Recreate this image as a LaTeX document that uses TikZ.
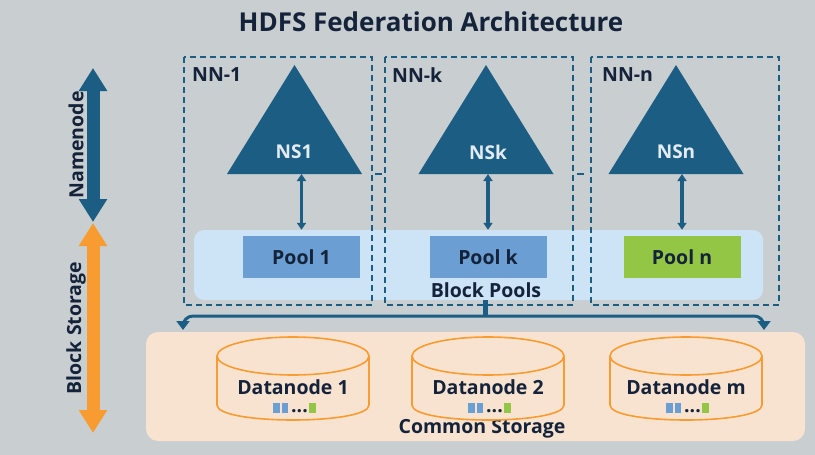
\documentclass[tikz,border=0pt]{standalone}
\usepackage{fontspec}
\setmainfont{Open Sans}
\usetikzlibrary{arrows.meta}
\definecolor{bg}{HTML}{C9CED1}
\definecolor{dblue}{HTML}{1C5D84}
\definecolor{navy}{HTML}{14233A}
\definecolor{bppanel}{HTML}{CDE3F6}
\definecolor{poolblue}{HTML}{6B9ED3}
\definecolor{poolgreen}{HTML}{94C646}
\definecolor{peach}{HTML}{F8E3D0}
\definecolor{orng}{HTML}{F89C31}
\definecolor{nstext}{HTML}{E4ECF3}
\tikzset{
  lbl/.style={font=\bfseries\fontsize{19.5}{22}\selectfont, text=navy, inner sep=0pt},
  nnbox/.style={draw=dblue, line width=1.6pt, dash pattern=on 6pt off 4pt},
  poolbox/.style={minimum width=117pt, minimum height=42pt, inner sep=0pt, font=\bfseries\fontsize{19.5}{22}\selectfont, text=navy},
  nstri/.style={fill=dblue},
  nslbl/.style={font=\bfseries\fontsize{19}{22}\selectfont, text=nstext},
  bigarrow/.style={line width=13pt, {Triangle[width=27pt,length=23pt]}-{Triangle[width=27pt,length=23pt]}},
  nsarrow/.style={draw=dblue, line width=3.5pt, {Triangle[width=9pt,length=7pt]}-{Triangle[width=9pt,length=7pt]}},
  conn/.style={draw=dblue, line width=3pt, -{Triangle[width=13pt,length=9pt]}, rounded corners=10pt},
  cyl/.style={draw=orng, line width=1.6pt, fill=peach},
}
\begin{document}
\begin{tikzpicture}[x=1pt,y=-1pt]
\fill[bg] (0,0) rectangle (815,455);
\useasboundingbox (0,0) rectangle (815,455);

% title
\node[font=\bfseries\fontsize{26}{30}\selectfont, text=navy] (title) at (431,22) {HDFS Federation Architecture};

% left arrows
\coordinate (nnT) at (93,68);
\coordinate (nnB) at (93,222);
\draw[bigarrow, draw=dblue, fill=dblue] (nnT) -- (nnB);
\node[lbl, rotate=90] (nnlab) at (76,145) {Namenode};
\coordinate (bsT) at (93,223);
\coordinate (bsB) at (93,433);
\draw[bigarrow, draw=orng, fill=orng] (bsT) -- (bsB);
\node[lbl, rotate=90] (bslab) at (76,328) {Block Storage};

% block pools panel
\node[fill=bppanel, rounded corners=10pt, minimum width=569pt, minimum height=70pt, inner sep=0pt] (bp) at (478.5,265) {};
\node[lbl] (bplab) at (486,290) {Block Pools};

% dashed namenode boxes
\draw[nnbox] (184,57) rectangle (372,305);
\draw[nnbox] (385,57) rectangle (573,305);
\draw[nnbox] (591,57) rectangle (779,305);
\draw[dblue, line width=1.6pt] (375,174) -- (382,174);
\draw[dblue, line width=1.6pt] (577,174) -- (584,174);
\node[lbl, anchor=west] (nn1) at (192,75) {NN-1};
\node[lbl, anchor=west] (nnk) at (392,75) {NN-k};
\node[lbl, anchor=west] (nnn) at (602,75) {NN-n};

% pools
\node[poolbox, fill=poolblue] (pool1) at (301.5,257) {Pool 1};
\node[poolbox, fill=poolblue] (poolk) at (488,257) {Pool k};
\node[poolbox, fill=poolgreen] (pooln) at (682,257) {Pool n};

% triangles
\fill[nstri] (294.5,65) -- (362,174) -- (227,174) -- cycle;
\fill[nstri] (486,65) -- (553.5,174) -- (418.5,174) -- cycle;
\fill[nstri] (676,65) -- (743.5,174) -- (608.5,174) -- cycle;
\node[nslbl] (ns1) at (294,152) {NS1};
\node[nslbl] (nsk) at (488,152) {NSk};
\node[nslbl] (nsn) at (676,152) {NSn};
\coordinate (ns1b) at (301.5,174);
\coordinate (nskb) at (488,174);
\coordinate (nsnb) at (682,174);
\draw[nsarrow] (ns1b) -- (ns1b |- bp.north);
\draw[nsarrow] (nskb) -- (nskb |- bp.north);
\draw[nsarrow] (nsnb) -- (nsnb |- bp.north);

% common storage panel
\node[fill=peach, rounded corners=12pt, minimum width=659pt, minimum height=109pt, inner sep=0pt] (cs) at (475.5,386.5) {};
\node[lbl] (cslab) at (482,429) {Common Storage};

% fork connector
\coordinate (fork) at (485,316);
\coordinate (csL) at (183,330);
\coordinate (csR) at (764,330);
\draw[dblue, line width=5pt] (fork |- bp.south) -- (fork);
\draw[conn] (fork) -| (csL);
\draw[conn] (fork) -| (csR);

% datanodes
\foreach \c/\t/\n in {293/Datanode 1/d1, 488/Datanode 2/d2, 686/Datanode m/dm}{
  \draw[cyl] (\c-76,356) -- (\c-76,405) .. controls (\c-76,425) and (\c+76,425) .. (\c+76,405) -- (\c+76,356);
  \draw[cyl] (\c,356) ellipse [x radius=76pt, y radius=19pt];
  \node[lbl, anchor=base, text depth=0pt] (\n) at (\c,394.5) {\t};
  \fill[poolblue] (\c-20,402.5) rectangle (\c-13.5,412.7);
  \fill[poolblue] (\c-11,402.5) rectangle (\c-4.7,412.7);
  \node[lbl, anchor=base, text height=4pt, text depth=0pt] (\n dots) at (\c+6.5,412.7) {...};
  \fill[poolgreen] (\c+16,402.5) rectangle (\c+23,412.7);
}
\end{tikzpicture}
\end{document}
